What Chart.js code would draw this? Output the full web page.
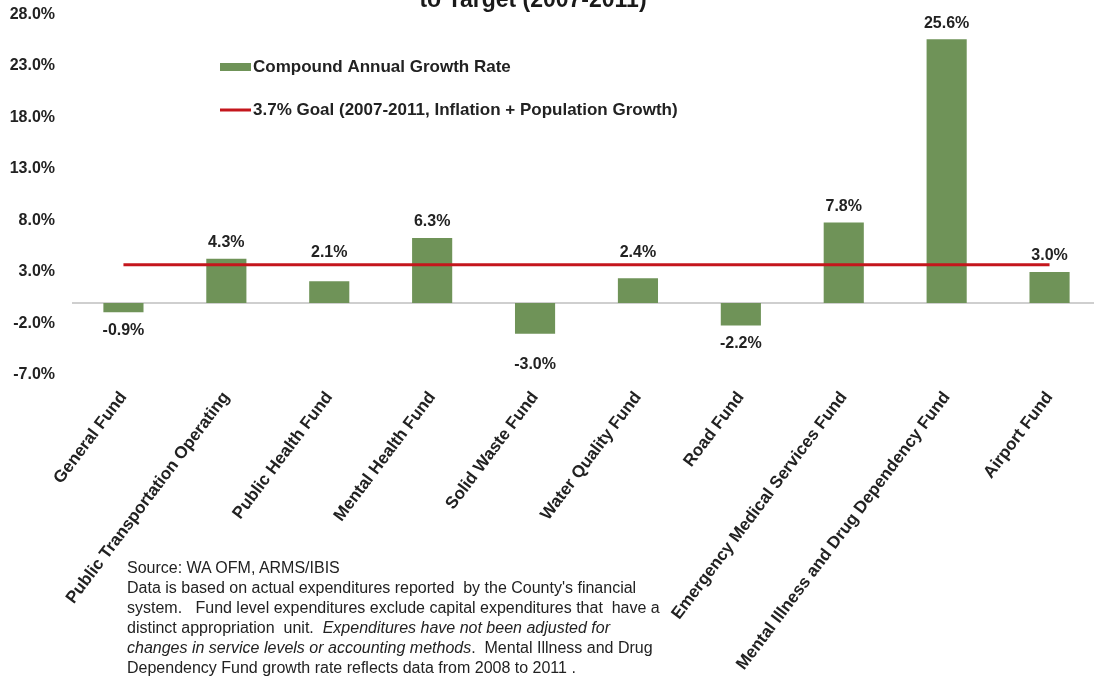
<!DOCTYPE html>
<html>
<head>
<meta charset="utf-8">
<script src="https://cdn.jsdelivr.net/npm/chart.js@4.4.1/dist/chart.umd.min.js"></script>
<style>
    html, body {
        margin: 0;
        padding: 0;
        background: #ffffff;
        overflow: hidden;
    }
    #wrap {
        position: relative;
        width: 1094px;
        height: 677px;
        overflow: hidden;
    }
    /* canvas pulled up a little so the plot starts right under the page edge */
    #growth-chart {
        position: absolute;
        left: 0;
        top: -12px;
    }
    #source-note {
        position: absolute;
        left: 127px;
        top: 558px;
        font-family: "Liberation Sans", Arial, sans-serif;
        font-size: 16px;
        line-height: 20px;
        color: #222222;
        white-space: pre;
    }
</style>
</head>
<body>
<div id="wrap">
    <canvas id="growth-chart" width="1101" height="689"></canvas>
    <div id="source-note">Source: WA OFM, ARMS/IBIS
Data is based on actual expenditures reported  by the County's financial
system.   Fund level expenditures exclude capital expenditures that  have a
distinct appropriation  unit.  <i>Expenditures have not been adjusted for</i>
<i>changes in service levels or accounting methods</i>.  Mental Illness and Drug
Dependency Fund growth rate reflects data from 2008 to 2011 .</div>
</div>
<script>
(function () {
    const funds = [
        "General Fund",
        "Public Transportation Operating",
        "Public Health Fund",
        "Mental Health Fund",
        "Solid Waste Fund",
        "Water Quality Fund",
        "Road Fund",
        "Emergency Medical Services Fund",
        "Mental Illness and Drug Dependency Fund",
        "Airport Fund",
    ];
    const growthRates = [-0.9, 4.3, 2.1, 6.3, -3.0, 2.4, -2.2, 7.8, 25.6, 3.0];
    const goalRate = 3.7;
    const goalLine = funds.map(() => goalRate);

    const yMin = -7;
    const yMax = 28;
    const yStep = 5;

    const barLabel = "Compound Annual Growth Rate";
    const goalLabel = "3.7% Goal (2007-2011, Inflation + Population Growth)";
    const titleTail = "to Target (2007-2011)";

    const FONT = "'Liberation Sans', Arial, sans-serif";
    const TEXT = "#222222";
    const GREEN = "#6f9358";
    const RED = "#c4161c";
    const SHIFT = 12; // matches the canvas top offset in the css

    // gray baseline at 0, under the bars
    const zeroLine = {
        id: "zeroLine",
        beforeDatasetsDraw(chart) {
            const ctx = chart.ctx;
            const y = chart.scales.y.getPixelForValue(0);
            ctx.save();
            ctx.strokeStyle = "#bfbfbf";
            ctx.lineWidth = 1.5;
            ctx.beginPath();
            ctx.moveTo(chart.chartArea.left, y);
            ctx.lineTo(chart.chartArea.right, y);
            ctx.stroke();
            ctx.restore();
        },
    };

    // value labels over / under each bar, kept clear of the goal line
    const valueLabels = {
        id: "valueLabels",
        afterDatasetsDraw(chart, args, opts) {
            const ctx = chart.ctx;
            const meta = chart.getDatasetMeta(1);
            const goalY = chart.scales.y.getPixelForValue(goalRate);
            ctx.save();
            ctx.font = "bold 16px " + FONT;
            ctx.fillStyle = TEXT;
            ctx.textAlign = "center";
            ctx.textBaseline = "middle";
            meta.data.forEach((bar, i) => {
                const v = growthRates[i];
                let y;
                if (v >= 0) {
                    y = bar.y - opts.above;
                    if (y > goalY - 7) {
                        y = goalY - 12;
                    }
                } else {
                    y = bar.y + opts.below + (opts.nudge[i] || 0);
                }
                ctx.fillText(v.toFixed(1) + "%", bar.x, y);
            });
            ctx.restore();
        },
    };

    // legend sits inside the plot, top left
    const innerLegend = {
        id: "innerLegend",
        afterDraw(chart) {
            const ctx = chart.ctx;
            ctx.save();
            ctx.font = "bold 17px " + FONT;
            ctx.textBaseline = "middle";

            ctx.fillStyle = GREEN;
            ctx.fillRect(220, 63 + SHIFT, 31, 8);
            ctx.fillStyle = TEXT;
            ctx.fillText(barLabel, 253, 67 + SHIFT);

            ctx.strokeStyle = RED;
            ctx.lineWidth = 3;
            ctx.beginPath();
            ctx.moveTo(220, 110 + SHIFT);
            ctx.lineTo(251, 110 + SHIFT);
            ctx.stroke();
            ctx.fillText(goalLabel, 253, 110 + SHIFT);

            // only the tail of the title shows at the top edge
            ctx.font = "bold 23px " + FONT;
            ctx.fillStyle = "#1a1a1a";
            ctx.textAlign = "center";
            ctx.textBaseline = "alphabetic";
            ctx.fillText(titleTail, 533, 7 + SHIFT);
            ctx.restore();
        },
    };

    new Chart(document.getElementById("growth-chart").getContext("2d"), {
        type: "bar",
        data: {
            labels: funds,
            datasets: [
                {
                    type: "line",
                    label: goalLabel,
                    data: goalLine,
                    borderColor: RED,
                    borderWidth: 3,
                    pointRadius: 0,
                    fill: false,
                    order: 0,
                },
                {
                    label: barLabel,
                    data: growthRates,
                    backgroundColor: GREEN,
                    categoryPercentage: 1,
                    barPercentage: 0.39,
                    order: 1,
                },
            ],
        },
        plugins: [zeroLine, valueLabels, innerLegend],
        options: {
            responsive: false,
            animation: false,
            devicePixelRatio: 1,
            layout: {
                padding: { top: 3, right: 0, bottom: 0, left: 0 },
            },
            scales: {
                x: {
                    offset: true,
                    grid: { display: false },
                    border: { display: false },
                    ticks: {
                        color: TEXT,
                        font: { family: FONT, size: 17, weight: "bold" },
                        minRotation: 53,
                        maxRotation: 53,
                        autoSkip: false,
                        padding: 5,
                    },
                    afterFit(scale) {
                        scale.height = 302;
                    },
                },
                y: {
                    min: yMin,
                    max: yMax,
                    grid: { display: false, drawTicks: false },
                    border: { display: false },
                    ticks: {
                        stepSize: yStep,
                        color: TEXT,
                        font: { family: FONT, size: 16, weight: "bold" },
                        padding: 17,
                        callback: (v) => Number(v).toFixed(1) + "%",
                    },
                    afterFit(scale) {
                        scale.width = 72;
                    },
                },
            },
            plugins: {
                legend: { display: false },
                title: { display: false },
                tooltip: { enabled: false },
                valueLabels: { above: 16, below: 18, nudge: { 4: 13 } },
            },
        },
    });
})();
</script>
</body>
</html>
